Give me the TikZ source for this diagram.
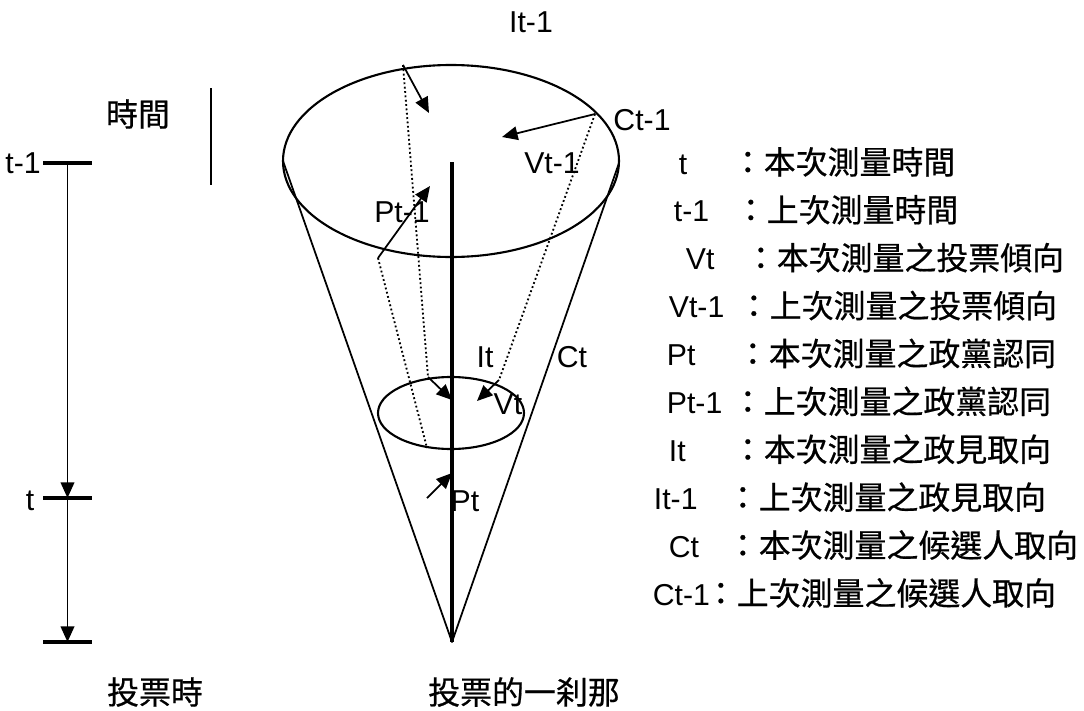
\documentclass[tikz,border=0pt]{standalone}
\usepackage{fontspec}
\setmainfont{Liberation Sans}
\newfontfamily\cjk[FakeBold=0.6]{Noto Sans CJK TC}
\usetikzlibrary{arrows.meta}
\tikzset{zh/.style={font=\fontsize{22.7}{27}\cjk}, dots/.style={line width=1.3pt, dash pattern=on 1.3pt off 1.8pt}}
\begin{document}
\begin{tikzpicture}[x=0.025cm, y=-0.025cm, >={Triangle[length=3.9mm,width=3.4mm]}, font=\fontsize{21.5}{26}\selectfont, line join=round, line width=1.25pt]
	\useasboundingbox (0,0) rectangle (1084,710);
	% time axis
	\foreach \y/\n in {163/a,498/b,642/c}
	\draw[line width=2.4pt] (43,\y) -- (92,\y) coordinate[pos=0.5] (tick\n);
	\draw[->] (ticka) -- (tickb);
	\draw[->] (tickb) -- (tickc);
	\node[anchor=east, inner sep=1pt] (tprev) at (ticka -| 43,0) {t-1};
	\node (tnow) at (30,501) {t};
	\node[zh] (time) at (138,114) {時間};
	\draw (211,88) -- (211,185);
	\node[zh] (vote) at (155,692) {投票時};
	% cone
	\coordinate (apex) at (452,642);
	\coordinate (cl) at (283,161);
	\coordinate (cr) at (619,163);
	\draw[line width=1.5pt] (451,161) ellipse [x radius=168, y radius=96];
	\draw (cl) -- (apex) -- (cr);
	\draw[line width=2.4pt] (452,162) -- (apex);
	\draw[line width=1.5pt] (451,413) ellipse [x radius=73, y radius=36];
	\node[zh] (moment) at (524,692) {投票的一刹那};
	% points on the two circles
	\coordinate (itop) at (403,65);
	\coordinate (ctop) at (595,114);
	\coordinate (ptop) at (378,258);
	\coordinate (ilow) at (428,377);
	\coordinate (vlow) at (499,380);
	\coordinate (plow) at (427,448);
	\draw[dots] (itop) -- (ilow);
	\draw[dots] (ctop) -- (vlow);
	\draw[dots] (ptop) -- (plow);
	\draw[->] (itop) -- (429,113);
	\draw[->] (ctop) -- (502,137);
	\draw[->] (ptop) -- (430,186);
	\draw[->] (ilow) -- (452,400);
	\draw[->] (vlow) -- (477,401);
	\draw[->] (427,498) -- (452,473);
	\node (Ia) at (531,22) {It-1};
	\node (Ca) at (642,120) {Ct-1};
	\node (Va) at (552,163) {Vt-1};
	\node (Pa) at (402,212) {Pt-1};
	\node (Ib) at (485,357) {It};
	\node (Cb) at (572,357) {Ct};
	\node (Vb) at (508,404) {Vt};
	\node (Pb) at (465,501) {Pt};
	% legend
	\foreach \lab/\lx/\cx/\txt [count=\i] in {t/678/747/本次測量時間, t-1/673/750/上次測量時間, Vt/685/760/本次測量之投票傾向, Vt-1/668/753/上次測量之投票傾向, Pt/666/752/本次測量之政黨認同, Pt-1/666/747/上次測量之政黨認同, It/668/747/本次測量之政見取向, It-1/653/742/上次測量之政見取向, Ct/668/742/本次測量之候選人取向, Ct-1/652/720/上次測量之候選人取向}
	{
	\node[anchor=base west, inner sep=0] (key\i) at (\lx,{174+47.9*(\i-1)}) {\lab};
	\node[zh, anchor=base west, inner sep=0] (desc\i) at ({\cx-16},{174+47.9*(\i-1)}) {：\txt};
	}
\end{tikzpicture}
\end{document}
